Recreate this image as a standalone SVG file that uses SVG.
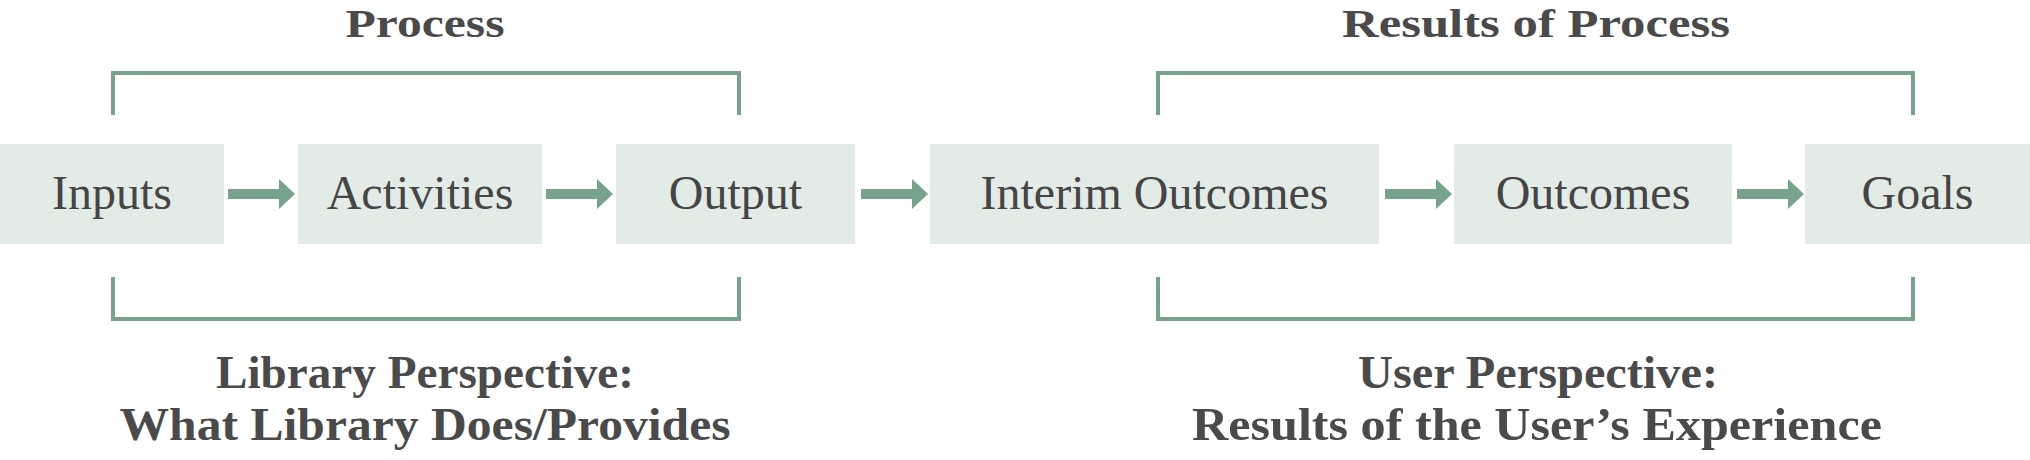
<svg xmlns="http://www.w3.org/2000/svg" width="2030" height="460" viewBox="0 0 2030 460">
<style>
.box{fill:#E2EBE6}
.lbl{font-family:"Liberation Serif",serif;font-size:48px;fill:#454545;text-anchor:middle}
.hd{font-family:"Liberation Serif",serif;font-size:46px;font-weight:bold;fill:#4A4A4A;text-anchor:middle}
.top{font-size:41px}
.br{fill:none;stroke:#77A28C;stroke-width:4}
.ar{fill:#77A28C}
</style>
<defs>
<path id="arrow" d="M0,-5 L51,-5 L51,-15 L67,0 L51,15 L51,5 L0,5 Z"/>
</defs>
<g id="node-inputs"><rect class="box" x="0" y="144" width="224" height="100"/><text class="lbl" x="112" y="209">Inputs</text></g>
<g id="node-activities"><rect class="box" x="298" y="144" width="244" height="100"/><text class="lbl" x="420" y="209">Activities</text></g>
<g id="node-output"><rect class="box" x="616" y="144" width="239" height="100"/><text class="lbl" x="735.5" y="209">Output</text></g>
<g id="node-interim"><rect class="box" x="930" y="144" width="449" height="100"/><text class="lbl" x="1154.5" y="209">Interim Outcomes</text></g>
<g id="node-outcomes"><rect class="box" x="1454" y="144" width="278" height="100"/><text class="lbl" x="1593" y="209">Outcomes</text></g>
<g id="node-goals"><rect class="box" x="1805" y="144" width="225" height="100"/><text class="lbl" x="1917.5" y="209">Goals</text></g>
<g id="connectors" class="ar">
<use href="#arrow" x="228" y="194"/>
<use href="#arrow" x="546" y="194"/>
<use href="#arrow" x="861" y="194"/>
<use href="#arrow" x="1385" y="194"/>
<use href="#arrow" x="1737" y="194"/>
</g>
<g id="brackets">
<path class="br" d="M113,115 V73 H739 V115"/>
<path class="br" d="M113,277 V319 H739 V277"/>
<path class="br" d="M1158,115 V73 H1913 V115"/>
<path class="br" d="M1158,277 V319 H1913 V277"/>
</g>
<g id="headings">
<text class="hd top" x="425" y="37" textLength="159" lengthAdjust="spacingAndGlyphs">Process</text>
<text class="hd top" x="1536" y="37" textLength="388" lengthAdjust="spacingAndGlyphs">Results of Process</text>
<text class="hd" x="425" y="388" textLength="418" lengthAdjust="spacingAndGlyphs">Library Perspective:</text>
<text class="hd" x="425" y="440" textLength="611" lengthAdjust="spacingAndGlyphs">What Library Does/Provides</text>
<text class="hd" x="1538" y="388" textLength="360" lengthAdjust="spacingAndGlyphs">User Perspective:</text>
<text class="hd" x="1537" y="440" textLength="690" lengthAdjust="spacingAndGlyphs">Results of the User’s Experience</text>
</g>
</svg>
